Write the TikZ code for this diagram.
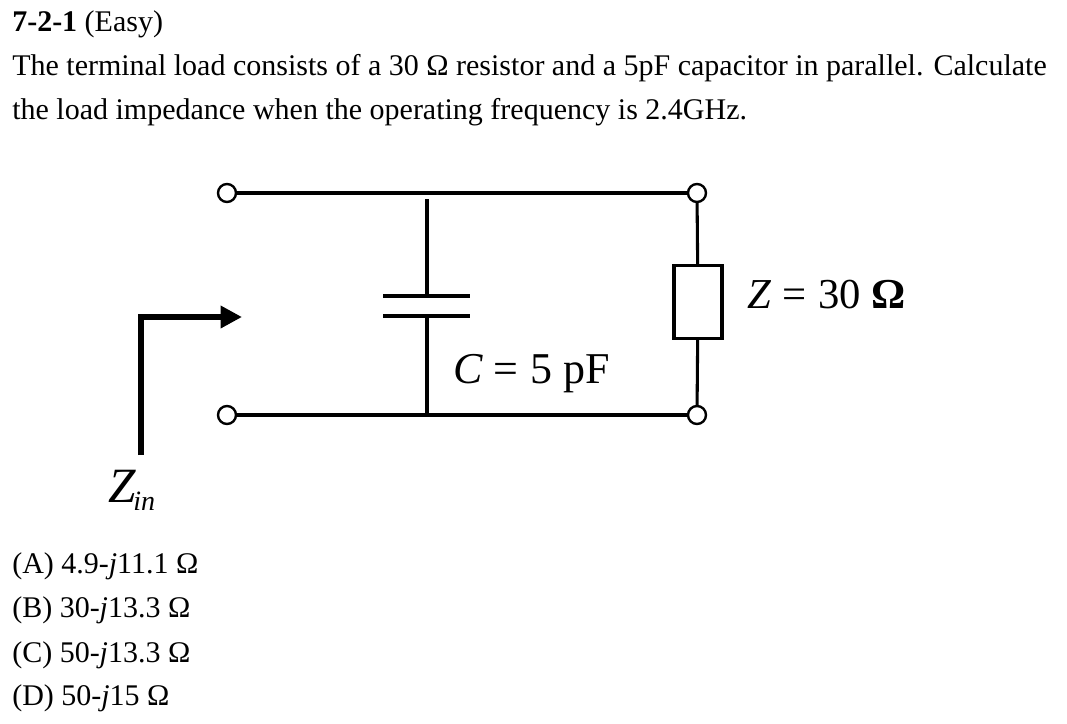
\documentclass[tikz,border=0pt]{standalone}
\usepackage{fontspec}
\setmainfont{Liberation Serif}
\usetikzlibrary{arrows.meta}
\tikzset{
  term/.style={circle,draw,line width=1.8pt,minimum size=13.5pt,inner sep=0pt,fill=white},
  wire/.style={line width=2.3pt},
  txt/.style={anchor=base west,inner sep=0pt,font=\fontsize{22.5}{26}\selectfont},
  lbl/.style={anchor=base west,inner sep=0pt,font=\fontsize{32}{36}\selectfont}
}
\newcommand{\eqsp}{\hspace{8pt}=\hspace{9pt}}
\begin{document}
\begin{tikzpicture}[x=0.75pt,y=-0.75pt]
\useasboundingbox (0,0) rectangle (1067,724);
% question text
\node[txt] (title) at (12,32) {\textbf{7-2-1} (Easy)};
\node[txt] (q1) at (12,76) {The terminal load consists of a 30 Ω resistor and a 5pF capacitor in parallel. Calculate};
\node[txt] (q2) at (12,119) {the load impedance when the operating frequency is 2.4GHz.};
% terminals
\node[term] (t1) at (227,193) {};
\node[term] (t2) at (227,415) {};
\node[term] (t3) at (697,193) {};
\node[term] (t4) at (697,415) {};
\draw[wire] (t1) -- (t3);
\draw[wire] (t2) -- (t4);
% capacitor
\coordinate (ca) at (427,199);
\coordinate (cb) at (427,296);
\coordinate (cc) at (427,316);
\coordinate (cd) at (427,415);
\draw[wire] (ca) -- (cb);
\draw[wire] (cc) -- (cd);
\draw[wire] (383,296) -- (470,296);
\draw[wire] (383,316) -- (470,316);
\node[lbl,font=\fontsize{33}{37}\selectfont] (clbl) at (453,383) {\textit{C}\eqsp 5 pF};
% load
\node[draw,line width=2.3pt,minimum width=36pt,minimum height=55pt,inner sep=0pt] (res) at (698,302) {};
\draw[wire] (t3) -- (res);
\draw[wire] (res) -- (t4);
\node[lbl] (zlbl) at (747,308) {\textit{Z}\eqsp 30 \textbf{Ω}};
% input arrow
\coordinate (a1) at (141,455);
\coordinate (a2) at (141,317);
\coordinate (a3) at (242,317);
\draw[line width=5.2pt,-{Triangle[length=16pt,width=16pt]}] (a1) -- (a2) -- (a3);
\node[lbl,font=\fontsize{37}{40}\selectfont] (zin) at (108,502) {\textit{Z}\hspace{-2pt}\raisebox{-6pt}{\fontsize{21}{23}\selectfont\textit{in}}};
% answers
\node[txt] (oa) at (12,573) {(A) 4.9-\textit{j}11.1 Ω};
\node[txt] (ob) at (12,617) {(B) 30-\textit{j}13.3 Ω};
\node[txt] (oc) at (12,662) {(C) 50-\textit{j}13.3 Ω};
\node[txt] (od) at (12,705) {(D) 50-\textit{j}15 Ω};
\end{tikzpicture}
\end{document}
